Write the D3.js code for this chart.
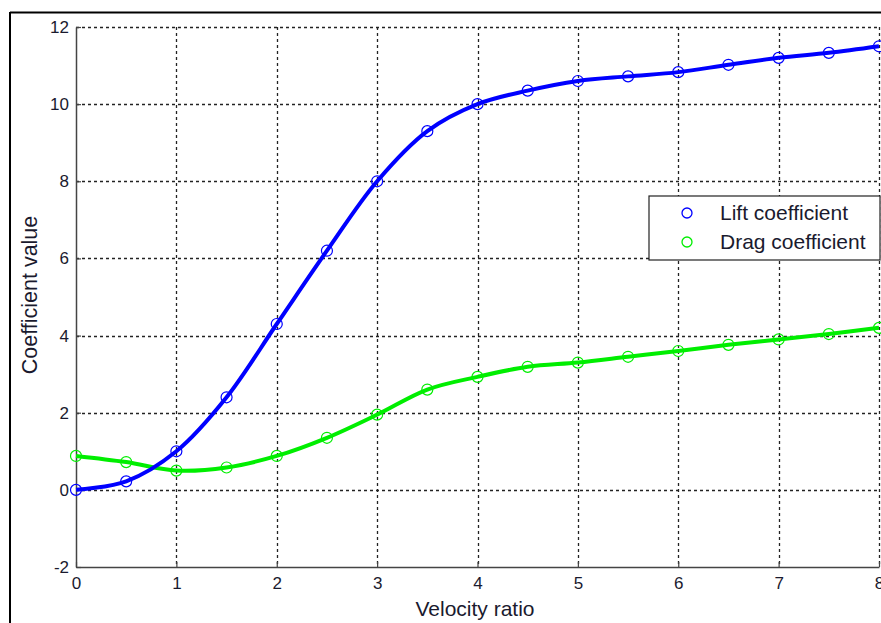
<!DOCTYPE html>
<html>
<head>
<meta charset="utf-8">
<script src="https://cdn.jsdelivr.net/npm/d3@7"></script>
<style>
  body { margin: 0; background: #fff; }
  svg text { font-family: "Liberation Sans", Arial, sans-serif; }
</style>
</head>
<body>
<svg id="chart" width="881" height="623"></svg>
<script>
// velocity ratio samples
const ratios = [0, 0.5, 1, 1.5, 2, 2.5, 3, 3.5, 4, 4.5, 5, 5.5, 6, 6.5, 7, 7.5, 8];
const lift = [0, 0.22, 1.0, 2.4, 4.3, 6.2, 8.0, 9.3, 10.0, 10.35, 10.6, 10.72, 10.83, 11.02, 11.2, 11.33, 11.5];
const drag = [0.88, 0.72, 0.5, 0.58, 0.88, 1.35, 1.95, 2.6, 2.93, 3.19, 3.3, 3.45, 3.6, 3.76, 3.9, 4.04, 4.2];
const xTicks = [0, 1, 2, 3, 4, 5, 6, 7, 8];
const yTicks = [-2, 0, 2, 4, 6, 8, 10, 12];

const svg = d3.select("#chart");
const plotLeft = 76, plotRight = 879, plotTop = 27, plotBottom = 567;

const x = d3.scaleLinear().domain([0, 8]).range([plotLeft, plotRight]);
const y = d3.scaleLinear().domain([-2, 12]).range([plotBottom, plotTop]);

// figure frame (only left and top show)
svg.append("line").attr("x1", 10).attr("x2", 10).attr("y1", 12).attr("y2", 623)
  .attr("stroke", "#000").attr("stroke-width", 2);
svg.append("line").attr("x1", 10).attr("x2", 881).attr("y1", 12.5).attr("y2", 12.5)
  .attr("stroke", "#000").attr("stroke-width", 2);

// grid
const grid = svg.append("g").attr("stroke", "#222").attr("stroke-width", 1.3)
  .attr("stroke-dasharray", "3,3");
grid.selectAll(".gx").data(xTicks.slice(1)).enter().append("line")
  .attr("x1", d => Math.round(x(d)) + 0.5).attr("x2", d => Math.round(x(d)) + 0.5)
  .attr("y1", plotTop).attr("y2", plotBottom);
grid.selectAll(".gy").data(yTicks.slice(1)).enter().append("line")
  .attr("x1", plotLeft).attr("x2", plotRight)
  .attr("y1", d => Math.round(y(d)) + 0.5).attr("y2", d => Math.round(y(d)) + 0.5);

// axes (plain hyphen for negatives, like the original)
const xAxis = svg.append("g").attr("transform", `translate(0,${plotBottom})`)
  .call(d3.axisBottom(x).tickValues(xTicks).tickFormat(d => String(d))
    .tickSizeInner(-5).tickSizeOuter(0).tickPadding(10));
const yAxis = svg.append("g").attr("transform", `translate(${plotLeft},0)`)
  .call(d3.axisLeft(y).tickValues(yTicks).tickFormat(d => String(d))
    .tickSizeInner(-5).tickSizeOuter(0).tickPadding(7));
[xAxis, yAxis].forEach(a => {
  a.select(".domain").attr("stroke", "#444").attr("stroke-width", 1.5);
  a.selectAll(".tick line").attr("stroke", "#444").attr("stroke-width", 1.2);
  a.selectAll("text").attr("font-size", 17).attr("fill", "#1a1a2e");
});

svg.append("text").attr("x", 475).attr("y", 616).attr("text-anchor", "middle")
  .attr("font-size", 21).attr("fill", "#1a1a2e").text("Velocity ratio");
svg.append("text").attr("transform", "translate(37,295) rotate(-90)")
  .attr("text-anchor", "middle").attr("font-size", 21.5).attr("fill", "#1a1a2e")
  .text("Coefficient value");

// series
const series = [
  {name: "Lift coefficient", values: lift, color: "#0000ff"},
  {name: "Drag coefficient", values: drag, color: "#00ee00"}
];
const line = d3.line().x((d, i) => x(ratios[i])).y(d => y(d)).curve(d3.curveCatmullRom);

const plot = svg.append("g");
series.slice().reverse().forEach(s => {
  plot.append("path").datum(s.values).attr("d", line)
    .attr("fill", "none").attr("stroke", s.color).attr("stroke-width", 4);
  plot.selectAll(null).data(s.values).enter().append("circle")
    .attr("cx", (d, i) => x(ratios[i])).attr("cy", d => y(d)).attr("r", 5.5)
    .attr("fill", "none").attr("stroke", s.color).attr("stroke-width", 1.2);
});

// legend
const lg = svg.append("g");
lg.append("rect").attr("x", 649).attr("y", 196).attr("width", 231).attr("height", 64)
  .attr("fill", "#fff").attr("stroke", "#222").attr("stroke-width", 1.2);
series.forEach((s, i) => {
  const cy = 213 + i * 29;
  lg.append("circle").attr("cx", 687).attr("cy", cy).attr("r", 5)
    .attr("fill", "none").attr("stroke", s.color).attr("stroke-width", 1.3);
  lg.append("text").attr("x", 720).attr("y", cy + 7).attr("font-size", 21)
    .attr("fill", "#1a1a2e").text(s.name);
});
</script>
</body>
</html>
